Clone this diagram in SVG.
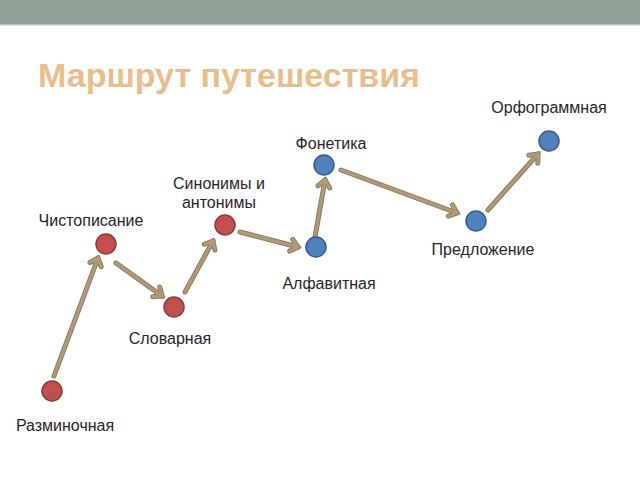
<svg xmlns="http://www.w3.org/2000/svg" width="640" height="480" viewBox="0 0 640 480">
<style>
.lbl{font-family:"Liberation Sans",Arial,sans-serif;font-size:16px;fill:#262626;text-anchor:middle}
.title{font-family:"Liberation Sans",Arial,sans-serif;font-size:34px;font-weight:bold;fill:#e8bd8c}
.red{fill:#c0504d;stroke:#8c3a38;stroke-width:1.5}
.blue{fill:#4f81bd;stroke:#385d8a;stroke-width:1.5}
.sh{stroke:#8c7a5e;stroke-width:5;fill:none;stroke-linecap:round}
.ar{stroke:#b09a78;stroke-width:3;fill:none;stroke-linecap:round}
</style>
<defs>
<marker id="hs" markerUnits="userSpaceOnUse" markerWidth="20" markerHeight="20" refX="10" refY="10" orient="auto" overflow="visible">
<path d="M3,4 L10,10 L3,16" fill="none" stroke="#8c7a5e" stroke-width="5" stroke-linejoin="miter" stroke-linecap="round"/>
</marker>
<marker id="ha" markerUnits="userSpaceOnUse" markerWidth="20" markerHeight="20" refX="10" refY="10" orient="auto" overflow="visible">
<path d="M3,4 L10,10 L3,16" fill="none" stroke="#b09a78" stroke-width="3" stroke-linejoin="miter" stroke-linecap="round"/>
</marker>
</defs>
<rect x="0" y="0" width="640" height="480" fill="#ffffff"/>
<rect x="0" y="0" width="640" height="24" fill="#91a197"/>
<rect x="0" y="24" width="640" height="1.5" fill="#b8c4bc"/>
<text class="title" x="38" y="87">Маршрут путешествия</text>
<g id="connectors">
<g>
<line class="sh" x1="54" y1="376" x2="98" y2="258" marker-end="url(#hs)"/>
<line class="ar" x1="54" y1="376" x2="98" y2="258" marker-end="url(#ha)"/>
</g>
<g>
<line class="sh" x1="116" y1="263" x2="162" y2="296" marker-end="url(#hs)"/>
<line class="ar" x1="116" y1="263" x2="162" y2="296" marker-end="url(#ha)"/>
</g>
<g>
<line class="sh" x1="185" y1="292" x2="213" y2="241" marker-end="url(#hs)"/>
<line class="ar" x1="185" y1="292" x2="213" y2="241" marker-end="url(#ha)"/>
</g>
<g>
<line class="sh" x1="240" y1="232" x2="298" y2="247" marker-end="url(#hs)"/>
<line class="ar" x1="240" y1="232" x2="298" y2="247" marker-end="url(#ha)"/>
</g>
<g>
<line class="sh" x1="315" y1="237" x2="325" y2="180" marker-end="url(#hs)"/>
<line class="ar" x1="315" y1="237" x2="325" y2="180" marker-end="url(#ha)"/>
</g>
<g>
<line class="sh" x1="341" y1="170" x2="457" y2="213" marker-end="url(#hs)"/>
<line class="ar" x1="341" y1="170" x2="457" y2="213" marker-end="url(#ha)"/>
</g>
<g>
<line class="sh" x1="488" y1="210" x2="538" y2="154" marker-end="url(#hs)"/>
<line class="ar" x1="488" y1="210" x2="538" y2="154" marker-end="url(#ha)"/>
</g>
</g>
<g id="n1"><circle class="red" cx="52" cy="391" r="10"/><text class="lbl" x="65" y="431">Разминочная</text></g>
<g id="n2"><circle class="red" cx="106" cy="244" r="10"/><text class="lbl" x="91" y="226">Чистописание</text></g>
<g id="n3"><circle class="red" cx="174" cy="307" r="10"/><text class="lbl" x="170" y="344">Словарная</text></g>
<g id="n4"><circle class="red" cx="225" cy="225" r="10"/><text class="lbl" x="219" y="189">Синонимы и</text><text class="lbl" x="219" y="208">антонимы</text></g>
<g id="n5"><circle class="blue" cx="316" cy="247" r="10"/><text class="lbl" x="329" y="289">Алфавитная</text></g>
<g id="n6"><circle class="blue" cx="324" cy="165" r="10"/><text class="lbl" x="331" y="149">Фонетика</text></g>
<g id="n7"><circle class="blue" cx="476" cy="221" r="10"/><text class="lbl" x="483" y="255">Предложение</text></g>
<g id="n8"><circle class="blue" cx="549" cy="141" r="10"/><text class="lbl" x="549" y="113">Орфограммная</text></g>
</svg>
